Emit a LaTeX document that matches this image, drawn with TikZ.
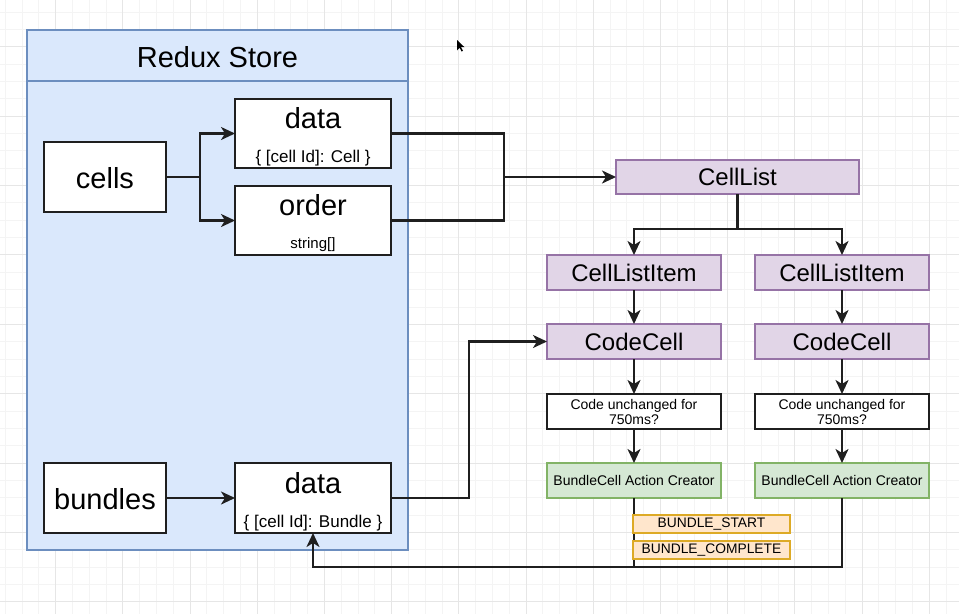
\documentclass[tikz,border=0pt]{standalone}
\usepackage{fontspec}
\setmainfont{Liberation Sans}
\usetikzlibrary{arrows.meta}
\definecolor{storefill}{HTML}{DAE8FC}
\definecolor{storeline}{HTML}{6C8EBF}
\definecolor{compfill}{HTML}{E1D5E7}
\definecolor{compline}{HTML}{9673A6}
\definecolor{actfill}{HTML}{D5E8D4}
\definecolor{actline}{HTML}{82B366}
\definecolor{tagfill}{HTML}{FFE6CC}
\definecolor{tagline}{HTML}{D79B00}
\definecolor{gridminor}{HTML}{F4F4F4}
\definecolor{gridmajor}{HTML}{E6E6E6}
\begin{document}
\begin{tikzpicture}[x=1pt,y=-1pt,
  every node/.style={inner sep=0pt,outer sep=0pt},
  box/.style={rectangle,anchor=north west,line width=2.2pt},
  plainbox/.style={box,draw=black!88,fill=white},
  compbox/.style={box,draw=compline,fill=compfill,line width=1.8pt},
  actbox/.style={box,draw=actline,fill=actfill,line width=1.8pt},
  tagbox/.style={box,draw=tagline!85,fill=tagfill,line width=1.6pt},
  big/.style={font=\fontsize{29}{34}\selectfont},
  mid/.style={font=\fontsize{24}{28}\selectfont},
  sub/.style={font=\fontsize{17}{20}\selectfont},
  small/.style={font=\fontsize{14}{15}\selectfont},
  wire/.style={draw=black!88,line width=2.2pt},
  arrow/.style={wire,-{Stealth[length=14pt,width=13pt,inset=4pt]}},
]
\useasboundingbox (0,0) rectangle (959,614);
\fill[white] (0,0) rectangle (959,614);

% canvas grid
\foreach \i in {0,...,57}{
  \pgfmathsetmacro\gx{5.2+16.8*\i}
  \draw[gridminor,line width=0.7pt] (\gx,0) -- (\gx,614);
}
\foreach \i in {0,...,35}{
  \pgfmathsetmacro\gy{11.9+17.35*\i}
  \draw[gridminor,line width=0.7pt] (0,\gy) -- (959,\gy);
}
\foreach \i in {0,...,14}{
  \pgfmathsetmacro\gx{55.6+67.2*\i}
  \draw[gridmajor,line width=0.8pt] (\gx,0) -- (\gx,614);
}
\foreach \i in {0,...,8}{
  \pgfmathsetmacro\gy{46.6+69.4*\i}
  \draw[gridmajor,line width=0.8pt] (0,\gy) -- (959,\gy);
}

% pointer
\fill[black] (457,40) -- (457,50.5) -- (459.6,47.8) -- (461.6,51.5) -- (463,50.8) -- (461,47.2) -- (464.5,47.2) -- cycle;

% Redux store container
\node[box,draw=storeline,fill=storefill,line width=1.6pt,minimum width=381,minimum height=520] (store) at (27,30) {};
\draw[storeline,line width=1.6pt] ([yshift=-51pt]store.north west) -- ([yshift=-51pt]store.north east);
\node[big] (storetitle) at (217.5,57) {Redux Store};

% slices of the store
\node[plainbox,minimum width=122,minimum height=70] (cells) at (44,142) {};
\node[big,anchor=base] (cellstext) at (105,188) {cells};
\node[plainbox,minimum width=156,minimum height=69] (data1) at (235,99) {};
\node[big,anchor=base] (data1title) at (313,128) {data};
\node[sub,anchor=base] (data1type) at (313,162) {\{ [cell Id]: Cell \}};
\node[plainbox,minimum width=156,minimum height=69] (order) at (235,186) {};
\node[big,anchor=base] (ordertitle) at (313,215) {order};
\node[font=\fontsize{15}{18}\selectfont,anchor=base] (ordertype) at (313,248) {string[]};

\node[plainbox,minimum width=122,minimum height=70] (bundles) at (44,463) {};
\node[big,anchor=base] (bundlestext) at (105,509) {bundles};
\node[plainbox,minimum width=156,minimum height=70] (data2) at (235,463) {};
\node[big,anchor=base] (data2title) at (313,493) {data};
\node[sub,anchor=base] (data2type) at (313,527) {\{ [cell Id]: Bundle \}};

% components
\node[compbox,minimum width=243,minimum height=34] (clist) at (616,160) {};
\node[mid] (clisttext) at (clist.center) {CellList};
\node[compbox,minimum width=174,minimum height=35] (cli1) at (547,255) {};
\node[mid] (cli1text) at (cli1.center) {CellListItem};
\node[compbox,minimum width=174,minimum height=35] (cli2) at (755,255) {};
\node[mid] (cli2text) at (cli2.center) {CellListItem};
\node[compbox,minimum width=174,minimum height=35] (cc1) at (547,324) {};
\node[mid] (cc1text) at (cc1.center) {CodeCell};
\node[compbox,minimum width=174,minimum height=35] (cc2) at (755,324) {};
\node[mid] (cc2text) at (cc2.center) {CodeCell};

% debounce checks
\node[plainbox,minimum width=174,minimum height=35] (q1) at (547,394) {};
\node[small,align=center] (q1text) at (q1.center) {Code unchanged for\\750ms?};
\node[plainbox,minimum width=174,minimum height=35] (q2) at (755,394) {};
\node[small,align=center] (q2text) at (q2.center) {Code unchanged for\\750ms?};

% action creators
\node[actbox,minimum width=174,minimum height=35] (bc1) at (547,463) {};
\node[small] (bc1text) at (bc1.center) {BundleCell Action Creator};
\node[actbox,minimum width=174,minimum height=35] (bc2) at (755,463) {};
\node[small] (bc2text) at (bc2.center) {BundleCell Action Creator};

% connectors inside the store
\draw[arrow] (cells.east) -- ++(34,0) |- (data1.west);
\draw[arrow] (cells.east) -- ++(34,0) |- (order.west);
\draw[arrow] (bundles.east) -- (data2.west);

% store to components
\coordinate (join) at (504,177);
\draw[wire] (order.east) -| (join);
\draw[arrow] (data1.east) -| (join) -- (clist.west);
\draw[arrow] (clist.south) -- ++(0,35) -| (cli1.north);
\draw[arrow] (clist.south) -- ++(0,35) -| (cli2.north);
\draw[arrow] (cli1.south) -- (cc1.north);
\draw[arrow] (cli2.south) -- (cc2.north);
\draw[arrow] (cc1.south) -- (q1.north);
\draw[arrow] (cc2.south) -- (q2.north);
\draw[arrow] (q1.south) -- (bc1.north);
\draw[arrow] (q2.south) -- (bc2.north);
\draw[arrow] (data2.east) -- ++(78,0) |- (cc1.west);

% dispatched actions back into the store
\draw[wire] (bc1.south) -- ++(0,69);
\draw[arrow] (bc2.south) -- ++(0,69) -| (data2.south);

\node[tagbox,minimum width=157,minimum height=18] (tstart) at (633,515) {};
\node[font=\fontsize{13.8}{16}\selectfont] (tstarttext) at (tstart.center) {BUNDLE\_START};
\node[tagbox,minimum width=157,minimum height=18] (tdone) at (633,541) {};
\node[font=\fontsize{13.8}{16}\selectfont] (tdonetext) at (tdone.center) {BUNDLE\_COMPLETE};
\end{tikzpicture}
\end{document}
